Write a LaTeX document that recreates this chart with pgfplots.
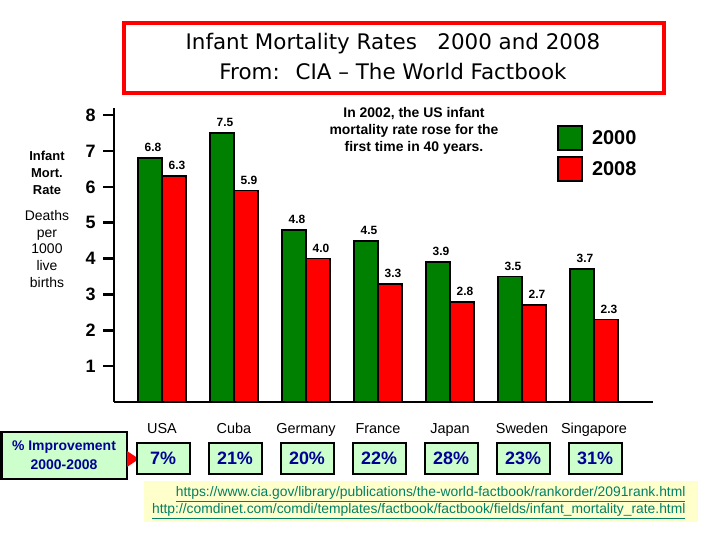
\documentclass[border=0pt]{standalone}
\usepackage{pgfplots}
\pgfplotsset{compat=1.18}
\usepackage{fontspec}
\setmainfont{Liberation Sans}
\newfontfamily\titlefont{DejaVu Sans}
\definecolor{bargreen}{RGB}{0,128,0}
\definecolor{barred}{RGB}{255,0,0}
\definecolor{boxgreen}{RGB}{204,255,204}
\definecolor{navy}{RGB}{0,0,150}
\definecolor{urlyellow}{RGB}{255,255,204}
\definecolor{urlgreen}{RGB}{0,128,100}
\begin{document}
\begin{tikzpicture}[x=1bp,y=1bp]
\path[use as bounding box] (0,0) rectangle (720,540);

% title box
\draw[barred, line width=4bp] (124,517) rectangle (664,447);
\node[font=\titlefont\fontsize{21.5}{25}\selectfont] at (393,496) {Infant Mortality Rates \ \ 2000 and 2008};
\node[font=\titlefont\fontsize{21.5}{25}\selectfont] at (393,468) {From: \ CIA – The World Factbook};

\begin{axis}[
    at={(114bp,138bp)}, anchor=south west,
    scale only axis, width=539bp, height=294bp,
    xmin=-0.667, xmax=6.82, ymin=0, ymax=8.2,
    clip=false,
    axis x line*=bottom, axis y line*=left,
    axis line style={line width=2.5bp, black},
    ybar=0pt, bar width=24bp,
    ytick={1,...,8}, tick align=outside, major tick length=11bp,
    ytick style={line width=2.5bp, black},
    yticklabel style={font=\bfseries\fontsize{18}{20}\selectfont, xshift=-4bp},
    /pgf/number format/assume math mode=true,
    xtick={0,...,6},
    xticklabels={USA,Cuba,Germany,France,Japan,Sweden,Singapore},
    xtick style={draw=none},
    xticklabel style={font=\fontsize{14.5}{16}\selectfont, yshift=-7bp},
    nodes near coords={\pgfmathprintnumber[fixed,fixed zerofill,precision=1]{\pgfplotspointmeta}},
    nodes near coords style={font=\bfseries\fontsize{12}{14}\selectfont, xshift=3bp, yshift=2bp},
    every axis plot post/.append style={
        legend image code/.code={\draw[##1] (0bp,-12bp) rectangle (24bp,12bp); \path (31bp,0bp);}},
    legend style={at={(0.822,0.942)}, anchor=north west, draw=none, fill=none,
        inner sep=0pt, row sep=5bp,
        font=\bfseries\fontsize{20}{24}\selectfont,
        cells={anchor=west}},
]
\addplot[fill=bargreen, draw=black, line width=1.8bp] coordinates {
    (0,6.8) (1,7.5) (2,4.8) (3,4.5) (4,3.9) (5,3.5) (6,3.7)
};
\addplot[fill=barred, draw=black, line width=1.8bp] coordinates {
    (0,6.3) (1,5.9) (2,4.0) (3,3.3) (4,2.8) (5,2.7) (6,2.3)
};
\legend{2000,2008}
\end{axis}

% annotation
\node[align=center, font=\bfseries\fontsize{14}{16.8}\selectfont] at (414,409)
    {In 2002, the US infant\\mortality rate rose for the\\first time in 40 years.};

% y axis caption
\node[align=center, font=\bfseries\fontsize{13}{17}\selectfont] at (47,367) {Infant\\Mort.\\Rate};
\node[align=center, font=\fontsize{14}{16.8}\selectfont] at (47,291) {Deaths\\per\\1000\\live\\births};

% improvement row
\draw[line width=2.5bp, fill=boxgreen] (1.25,108) rectangle (127,61);
\node[align=center, text=navy, font=\bfseries\fontsize{14}{19}\selectfont] at (64,84.5)
    {\% Improvement\\2000-2008};
\fill[barred] (127,89) -- (139,81) -- (127,73) -- cycle;
\foreach \p [count=\i from 0] in {7,21,20,22,28,23,31} {
    \node[draw=black, line width=2bp, fill=boxgreen, minimum width=53bp,
          minimum height=31bp, inner sep=0pt, text=navy,
          font=\bfseries\fontsize{18}{20}\selectfont] at ({163+72*\i},81.5) {\p\%};
}

% sources
\fill[urlyellow] (144,59) rectangle (698,18);
\node[anchor=east, text=urlgreen, font=\fontsize{13.9}{15}\selectfont] at (689,46)
    {\underline{https://www.cia.gov/library/publications/the-world-factbook/rankorder/2091rank.html}};
\node[anchor=east, text=urlgreen, font=\fontsize{13.9}{15}\selectfont] at (689,29)
    {\underline{http://comdinet.com/comdi/templates/factbook/factbook/fields/infant\_mortality\_rate.html}};
\end{tikzpicture}
\end{document}
